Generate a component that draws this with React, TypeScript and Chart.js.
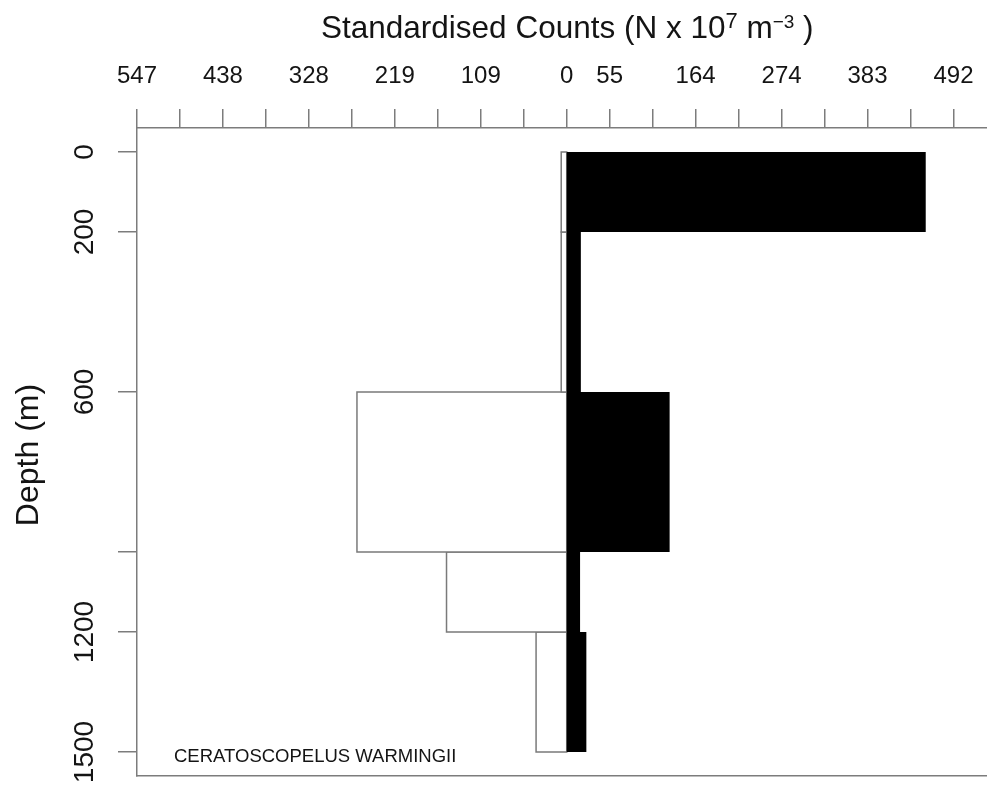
import React, { useEffect, useRef } from 'react';
import { Chart, registerables } from 'chart.js';

Chart.register(...registerables);

const FONT = '"Liberation Sans", Arial, Helvetica, sans-serif';
const AXIS = '#7c7c7c';
const INK = '#141414';

// Depth bins (m): each bar spans depthEdges[i] .. depthEdges[i + 1]
const depthEdges = [0, 200, 600, 1000, 1200, 1500];
// Open bars, drawn to the left of zero
const openBarCounts = [7, 7, 267, 153, 39];
// Solid bars, drawn to the right of zero
const solidBarCounts = [457, 18, 131, 17, 25];

// Count axis (top): ticks every 54.7 units, labels shown as absolute values
const xTickValues = [
  -547, -492.3, -437.6, -382.9, -328.2, -273.5, -218.8, -164.1, -109.4, -54.7,
  0, 54.7, 109.4, 164.1, 218.8, 273.5, 328.2, 382.9, 437.6, 492.3,
];
const xTickLabels = [
  '547', '', '438', '', '328', '', '219', '', '109', '',
  '0', '55', '', '164', '', '274', '', '383', '', '492',
];

// Depth axis (left)
const depthTicks = [0, 200, 600, 1000, 1200, 1500];
const depthTickLabels = ['0', '200', '600', '', '1200', '1500'];

// Axis titles and the species name
const titleParts = [
  { text: 'Standardised Counts (N x 10', size: 31.5, rise: 0 },
  { text: '7', size: 22, rise: -10 },
  { text: ' m', size: 31.5, rise: 0 },
  { text: '\u22123', size: 19, rise: -10 },
  { text: ' )', size: 31.5, rise: 0 },
];
const depthTitle = 'Depth (m)';
const speciesName = 'CERATOSCOPELUS WARMINGII';

// Closed rectangle from zero out to `value`, between two depths
const rect = (value: number, top: number, bottom: number) => [
  { x: 0, y: top },
  { x: value, y: top },
  { x: value, y: bottom },
  { x: 0, y: bottom },
  { x: 0, y: top },
];

const textPlugin = {
  id: 'profileText',
  afterDraw(chart: any) {
    const ctx: CanvasRenderingContext2D = chart.ctx;
    ctx.save();
    ctx.fillStyle = INK;
    ctx.textBaseline = 'alphabetic';
    ctx.textAlign = 'left';

    // top axis title with superscripts
    let x = 321;
    for (const part of titleParts) {
      ctx.font = `${part.size}px ${FONT}`;
      ctx.fillText(part.text, x, 38 + part.rise);
      x += ctx.measureText(part.text).width;
    }

    // species name inside the plot
    ctx.font = `18.5px ${FONT}`;
    ctx.fillText(speciesName, 174, 762);

    // rotated depth axis title
    ctx.font = `32px ${FONT}`;
    ctx.textAlign = 'center';
    ctx.translate(38, 455);
    ctx.rotate(-Math.PI / 2);
    ctx.fillText(depthTitle, 0, 0);
    ctx.restore();
  },
};

export default function App() {
  const canvasRef = useRef<HTMLCanvasElement | null>(null);

  useEffect(() => {
    const canvas = canvasRef.current;
    if (!canvas) return;

    Chart.defaults.font.family = FONT;

    const solidSets = solidBarCounts.map((count, i) => ({
      data: rect(count, depthEdges[i], depthEdges[i + 1]),
      showLine: true,
      fill: 'shape',
      backgroundColor: '#000000',
      borderColor: '#000000',
      borderWidth: 0,
      pointRadius: 0,
    }));

    const openSets = openBarCounts.map((count, i) => ({
      data: rect(-count, depthEdges[i], depthEdges[i + 1]),
      showLine: true,
      fill: 'shape',
      backgroundColor: '#ffffff',
      borderColor: '#7a7a7a',
      borderWidth: 1.5,
      borderCapStyle: 'square',
      borderJoinStyle: 'miter',
      pointRadius: 0,
    }));

    const chart = new Chart(canvas, {
      type: 'scatter',
      data: { datasets: [...solidSets, ...openSets] as any },
      options: {
        responsive: false,
        devicePixelRatio: 1,
        animation: false,
        events: [],
        layout: { padding: 0 },
        plugins: {
          legend: { display: false },
          tooltip: { enabled: false },
          title: { display: false },
        },
        elements: { point: { radius: 0, hoverRadius: 0 }, line: { tension: 0 } },
        scales: {
          x: {
            type: 'linear',
            position: 'top',
            min: -547,
            max: 535,
            afterBuildTicks: (s: any) => {
              s.ticks = xTickValues.map((value) => ({ value }));
            },
            afterFit: (s: any) => {
              s.height = 128;
              s.paddingLeft = 0;
              s.paddingRight = 0;
            },
            ticks: {
              autoSkip: false,
              minRotation: 0,
              maxRotation: 0,
              padding: 18,
              color: INK,
              font: { family: FONT, size: 24 },
              callback: (_v: any, i: number) => xTickLabels[i],
            },
            grid: {
              display: true,
              drawOnChartArea: false,
              drawTicks: true,
              tickLength: 19,
              color: AXIS,
              lineWidth: 1.5,
            },
            border: { display: true, color: AXIS, width: 1.5 },
          },
          x2: {
            type: 'linear',
            axis: 'x',
            position: 'bottom',
            min: -547,
            max: 535,
            afterFit: (s: any) => {
              s.height = 12;
              s.paddingLeft = 0;
              s.paddingRight = 0;
            },
            ticks: { display: false },
            grid: { display: false, drawTicks: false },
            border: { display: true, color: AXIS, width: 1.5 },
          },
          y: {
            type: 'linear',
            position: 'left',
            reverse: true,
            min: -60,
            max: 1560,
            afterBuildTicks: (s: any) => {
              s.ticks = depthTicks.map((value) => ({ value }));
            },
            afterFit: (s: any) => {
              s.width = 137;
              s.paddingTop = 0;
              s.paddingBottom = 0;
            },
            ticks: {
              autoSkip: false,
              minRotation: 90,
              maxRotation: 90,
              crossAlign: 'center',
              padding: 2,
              color: INK,
              font: { family: FONT, size: 28 },
              callback: (_v: any, i: number) => depthTickLabels[i],
            },
            grid: {
              display: true,
              drawOnChartArea: false,
              drawTicks: true,
              tickLength: 19,
              color: AXIS,
              lineWidth: 1.5,
            },
            border: { display: true, color: AXIS, width: 1.5 },
          },
        },
      } as any,
      plugins: [textPlugin],
    });

    return () => chart.destroy();
  }, []);

  return (
    <div
      style={{
        position: 'absolute',
        left: 0,
        top: 0,
        width: 987,
        height: 788,
        background: '#ffffff',
        overflow: 'hidden',
      }}
    >
      <canvas
        ref={canvasRef}
        width={987}
        height={788}
        style={{ display: 'block', width: 987, height: 788 }}
      />
    </div>
  );
}
